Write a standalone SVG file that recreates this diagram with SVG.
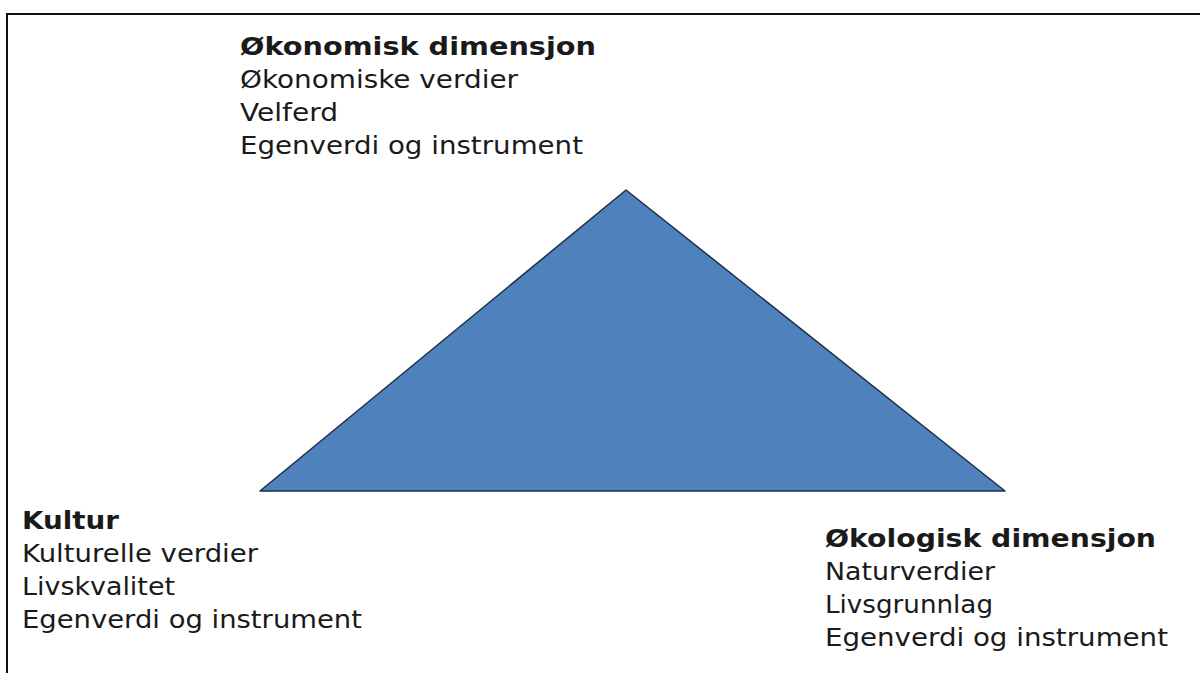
<svg xmlns="http://www.w3.org/2000/svg" width="1200" height="673" viewBox="0 0 1200 673">
<style>
text{font-family:"DejaVu Sans","Verdana",sans-serif;font-size:25px;fill:#1a1a1a}
.b{font-weight:bold}
</style>
<rect width="1200" height="673" fill="#fff"/>
<g id="frame"><path d="M7,673 V14 H1200" fill="none" stroke="#111" stroke-width="2"/></g>
<g id="triangle"><polygon points="626,190 260,491 1005,491" fill="#4f81bd" stroke="#1f2f45" stroke-width="1.5" stroke-linejoin="round"/></g>
<g id="top">
<text x="240" y="55" class="b" textLength="356" lengthAdjust="spacingAndGlyphs">Økonomisk dimensjon</text>
<text x="240" y="88" textLength="278" lengthAdjust="spacingAndGlyphs">Økonomiske verdier</text>
<text x="240" y="121" textLength="98" lengthAdjust="spacingAndGlyphs">Velferd</text>
<text x="240" y="154" textLength="343" lengthAdjust="spacingAndGlyphs">Egenverdi og instrument</text>
</g>
<g id="left">
<text x="22" y="529" class="b" textLength="97" lengthAdjust="spacingAndGlyphs">Kultur</text>
<text x="22" y="562" textLength="236" lengthAdjust="spacingAndGlyphs">Kulturelle verdier</text>
<text x="22" y="595" textLength="153" lengthAdjust="spacingAndGlyphs">Livskvalitet</text>
<text x="22" y="628" textLength="340" lengthAdjust="spacingAndGlyphs">Egenverdi og instrument</text>
</g>
<g id="right">
<text x="825" y="547" class="b" textLength="331" lengthAdjust="spacingAndGlyphs">Økologisk dimensjon</text>
<text x="825" y="580" textLength="170" lengthAdjust="spacingAndGlyphs">Naturverdier</text>
<text x="825" y="613" textLength="168" lengthAdjust="spacingAndGlyphs">Livsgrunnlag</text>
<text x="825" y="646" textLength="343" lengthAdjust="spacingAndGlyphs">Egenverdi og instrument</text>
</g>
</svg>
